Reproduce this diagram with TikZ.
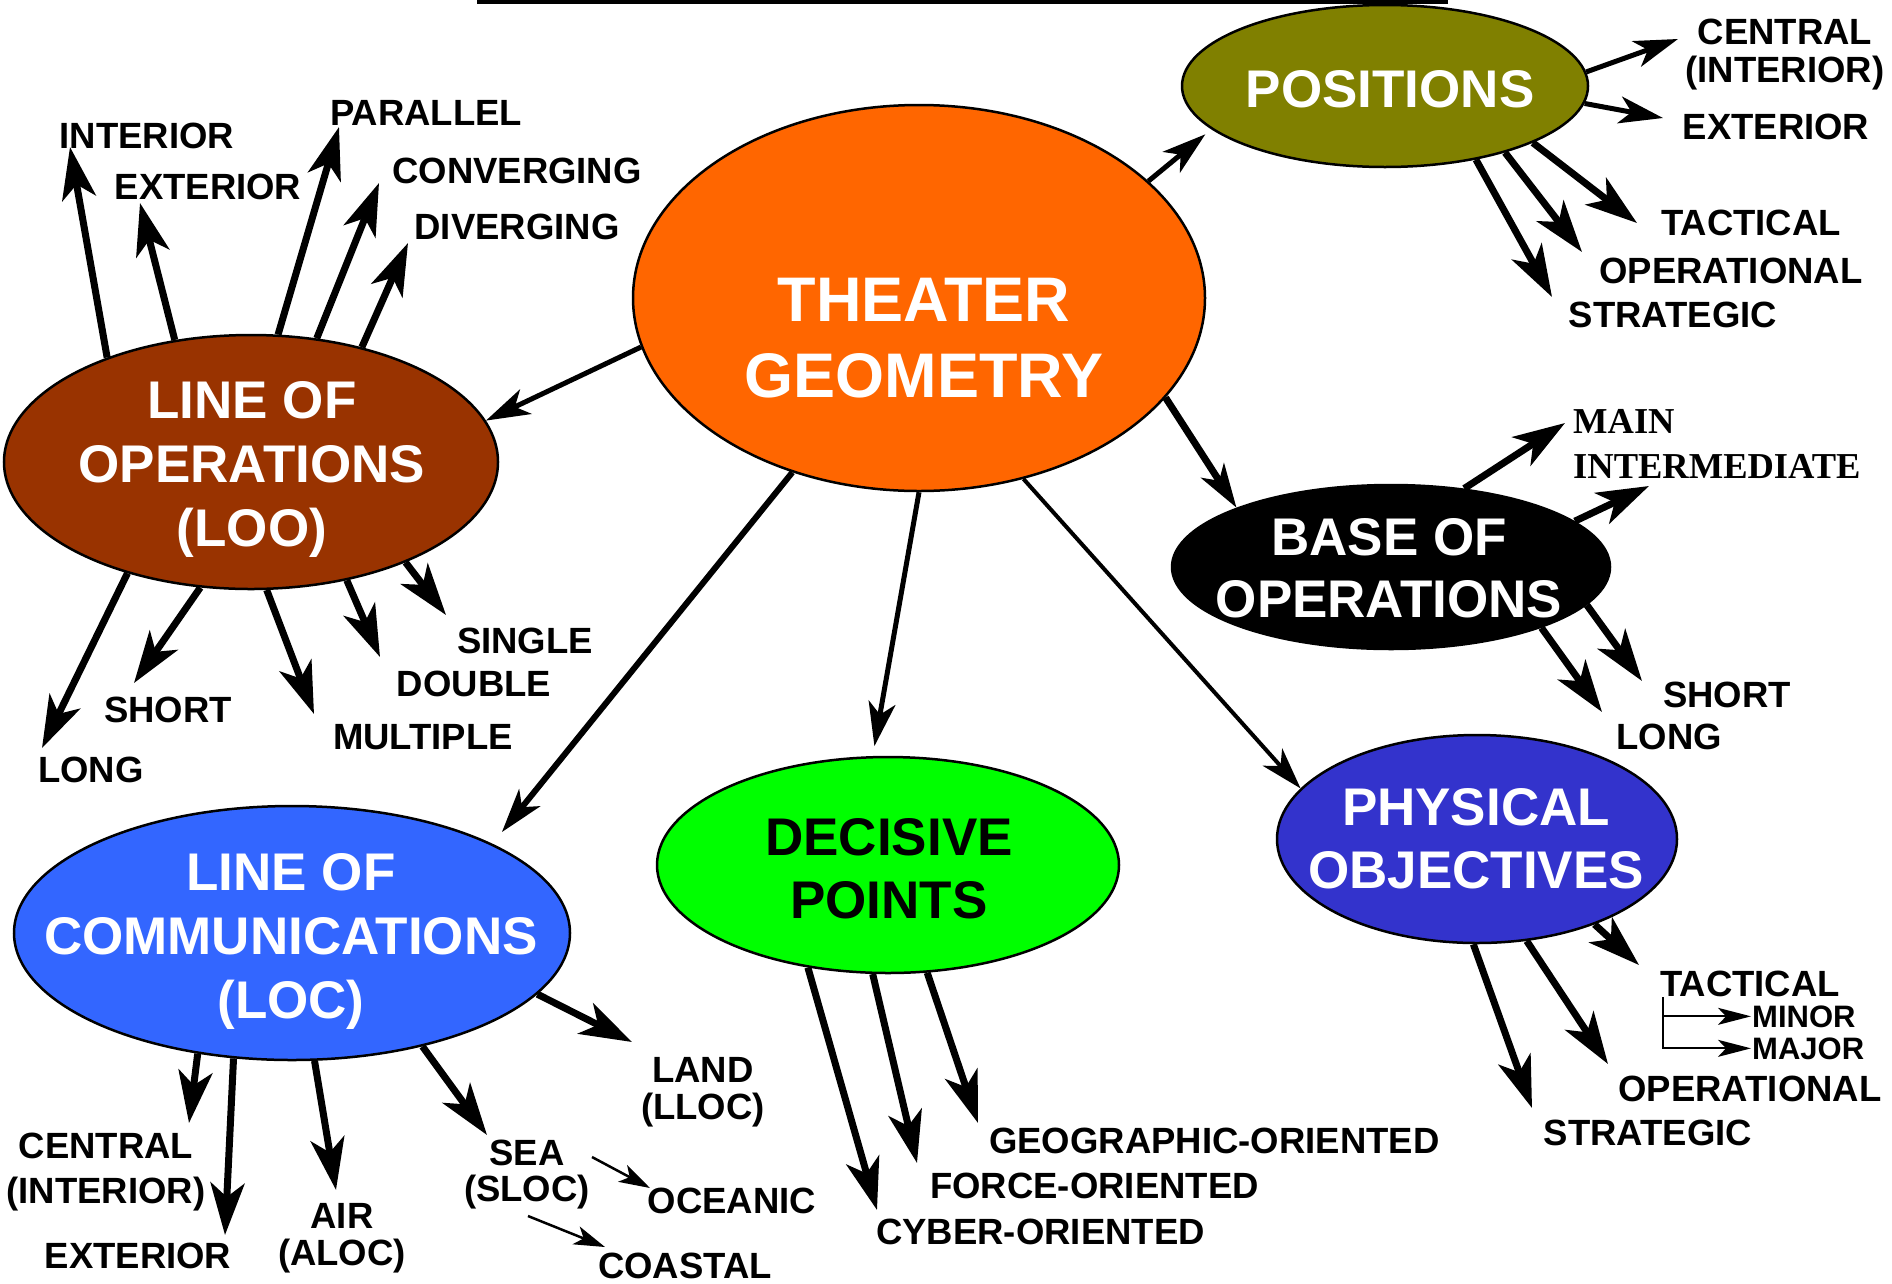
\documentclass[tikz,border=0pt]{standalone}
\usepackage{fontspec}
\setmainfont{Liberation Sans}
\newfontfamily\timesfont{Liberation Serif}
\usetikzlibrary{arrows.meta,shapes.geometric}

\definecolor{theaterorange}{HTML}{FF6600}
\definecolor{posolive}{HTML}{808000}
\definecolor{loobrown}{HTML}{993300}
\definecolor{locblue}{HTML}{3366FF}
\definecolor{decgreen}{HTML}{00FF00}
\definecolor{physblue}{HTML}{3333CC}

\tikzset{
  blob/.style={ellipse, draw=black, line width=2.5pt, inner sep=0pt},
  bigtxt/.style={text=white, font=\fontsize{53}{63}\selectfont\bfseries, align=center, anchor=base, inner sep=0pt},
  lbl/.style={font=\fontsize{36.5}{38}\selectfont\bfseries, align=center, anchor=base, inner sep=0pt},
  smalllbl/.style={font=\fontsize{31}{32}\selectfont\bfseries, anchor=base west, inner sep=1pt},
  hub/.style={-{Stealth[length=44pt,width=27pt,inset=12pt]}, line width=5pt},
  spoke/.style={-{Stealth[length=52pt,width=34pt,inset=14pt]}, line width=7pt},
  thinarrow/.style={-{Stealth[length=31pt,width=19pt,inset=8pt]}, line width=2.5pt},
}

\begin{document}
\begin{tikzpicture}[x=1pt,y=-1pt]
    \useasboundingbox (0,0) rectangle (1892,1283);
    \fill (477,0) rectangle (1448,4); % rule at the top

    % ellipses
    \node[blob, fill=theaterorange, minimum width=572pt, minimum height=386pt] (theater) at (919,298) {};
    \node[blob, fill=posolive, minimum width=406pt, minimum height=162pt] (positions) at (1385,86) {};
    \node[blob, fill=loobrown, minimum width=494pt, minimum height=254pt] (loo) at (251,462) {};
    \node[blob, fill=black, minimum width=438pt, minimum height=164pt] (base) at (1391,567) {};
    \node[blob, fill=locblue, minimum width=556pt, minimum height=254pt] (loc) at (292,933) {};
    \node[blob, fill=decgreen, minimum width=462pt, minimum height=216pt] (decisive) at (888,865) {};
    \node[blob, fill=physblue, minimum width=400pt, minimum height=208pt] (physical) at (1477,839) {};

    % texts sit on the baseline of their last line
    \node[bigtxt, font=\fontsize{63}{76}\selectfont\bfseries] (theaterTxt) at (924,397) {THEATER\\GEOMETRY};
    \node[bigtxt] (positionsTxt) at (1390,107) {POSITIONS};
    \node[bigtxt, font=\fontsize{53}{64}\selectfont\bfseries] (looTxt) at (252,546) {LINE OF\\OPERATIONS\\(LOO)};
    \node[bigtxt, font=\fontsize{53}{62}\selectfont\bfseries] (baseTxt) at (1389,617) {BASE OF\\OPERATIONS};
    \node[bigtxt, font=\fontsize{53}{64}\selectfont\bfseries] (locTxt) at (291,1018) {LINE OF\\COMMUNICATIONS\\(LOC)};
    \node[bigtxt, text=black] (decisiveTxt) at (889,918) {DECISIVE\\POINTS};
    \node[bigtxt] (physicalTxt) at (1476,888) {PHYSICAL\\OBJECTIVES};

    % from the centre ellipse
    \draw[hub] (theater.27.3) -- ([shift={(-6,5)}]positions.194);
    \draw[hub] (theater.190.8) -- (loo.10.1);
    \draw[hub, line width=7pt] (theater.-22.8) -- (base.159.8);
    \draw[hub, line width=6pt, shorten >=15pt] (theater.234.2) -- (loc.24);
    \draw[hub, shorten >=10pt] (theater.270) -- (decisive.98.5);
    \draw[hub, line width=4pt, -{Stealth[length=42pt,width=26pt,inset=12pt]}] (theater.-60) -- (physical.164.6);

    % positions
    \node[lbl] (pCentral) at (1785,82) {CENTRAL\\(INTERIOR)};
    \node[lbl] (pExterior) at (1776,139) {EXTERIOR};
    \node[lbl] (pTactical) at (1751,235) {TACTICAL};
    \node[lbl] (pOperational) at (1731,283) {OPERATIONAL};
    \node[lbl] (pStrategic) at (1673,327) {STRATEGIC};
    \coordinate (pCentralTip) at (1678,39);
    \coordinate (pExteriorTip) at (1663,118);
    \coordinate (pTacticalTip) at (1637,223);
    \coordinate (pOperationalTip) at (1582,252);
    \coordinate (pStrategicTip) at (1552,297);
    \draw[spoke, line width=5pt, -{Stealth[length=44pt,width=27pt,inset=12pt]}] (positions.4.3) -- (pCentralTip);
    \draw[spoke, line width=5pt, -{Stealth[length=44pt,width=27pt,inset=12pt]}] (positions.-5.2) -- (pExteriorTip);
    \draw[spoke] (positions.-21.1) -- (pTacticalTip);
    \draw[spoke] (positions.-29.2) -- (pOperationalTip);
    \draw[spoke] (positions.-39.7) -- (pStrategicTip);

    % line of operations
    \node[lbl] (lInterior) at (147,148) {INTERIOR};
    \node[lbl] (lExterior) at (208,199) {EXTERIOR};
    \node[lbl] (lParallel) at (426,125) {PARALLEL};
    \node[lbl] (lConverging) at (517,183) {CONVERGING};
    \node[lbl] (lDiverging) at (517,239) {DIVERGING};
    \node[lbl] (lSingle) at (525,653) {SINGLE};
    \node[lbl] (lDouble) at (474,696) {DOUBLE};
    \node[lbl] (lMultiple) at (423,749) {MULTIPLE};
    \node[lbl] (lShort) at (168,722) {SHORT};
    \node[lbl] (lLong) at (91,782) {LONG};
    \coordinate (lInteriorTip) at (70,147);
    \coordinate (lExteriorTip) at (140,203);
    \coordinate (lParallelTip) at (339,127);
    \coordinate (lConvergingTip) at (379,183);
    \coordinate (lDivergingTip) at (408,243);
    \coordinate (lSingleTip) at (446,615);
    \coordinate (lDoubleTip) at (380,657);
    \coordinate (lMultipleTip) at (314,714);
    \coordinate (lShortTip) at (134,683);
    \coordinate (lLongTip) at (42,748);
    \draw[spoke] (loo.144) -- (lInteriorTip);
    \draw[spoke] (loo.122.9) -- (lExteriorTip);
    \draw[spoke] (loo.78.4) -- (lParallelTip);
    \draw[spoke] (loo.62.7) -- (lConvergingTip);
    \draw[spoke] (loo.46.3) -- (lDivergingTip);
    \draw[spoke] (loo.-33.2) -- (lSingleTip);
    \draw[spoke] (loo.-51.3) -- (lDoubleTip);
    \draw[spoke] (loo.-83.7) -- (lMultipleTip);
    \draw[spoke] (loo.248.6) -- (lShortTip);
    \draw[spoke] (loo.222.3) -- (lLongTip);

    % base of operations
    \node[lbl, font=\fontsize{36.5}{45}\selectfont\timesfont\bfseries, align=left, anchor=base west] (bMain) at (1573,478) {MAIN\\INTERMEDIATE};
    \node[lbl] (bShort) at (1727,707) {SHORT};
    \node[lbl] (bLong) at (1669,749) {LONG};
    \coordinate (bMainTip) at (1565,423);
    \coordinate (bInterTip) at (1649,486);
    \coordinate (bShortTip) at (1642,681);
    \coordinate (bLongTip) at (1602,712);
    \draw[spoke] (base.47.7) -- (bMainTip);
    \draw[spoke] (base.14.9) -- (bInterTip);
    \draw[spoke] (base.-11.4) -- (bShortTip);
    \draw[spoke] (base.-22.2) -- (bLongTip);

    % physical objectives
    \node[lbl, anchor=base west] (fTactical) at (1660,996) {TACTICAL};
    \node[smalllbl] (fMinor) at (1751,1027) {MINOR};
    \node[smalllbl] (fMajor) at (1751,1059) {MAJOR};
    \node[lbl] (fOperational) at (1750,1101) {OPERATIONAL};
    \node[lbl] (fStrategic) at (1648,1145) {STRATEGIC};
    \coordinate (fTacticalTip) at (1639,965);
    \coordinate (fOperationalTip) at (1608,1064);
    \coordinate (fStrategicTip) at (1532,1108);
    \coordinate (fBracket) at (1663,997);
    \draw[spoke] (physical.-36.6) -- (fTacticalTip);
    \draw[spoke] (physical.-64.8) -- (fOperationalTip);
    \draw[spoke] (physical.268.4) -- (fStrategicTip);
    \draw[thinarrow, line width=2pt, -{Stealth[length=33pt,width=17pt,inset=8pt]}] (fBracket) |- (fMinor.west);
    \draw[thinarrow, line width=2pt, -{Stealth[length=33pt,width=17pt,inset=8pt]}] (fBracket) |- (fMajor.west);

    % decisive points
    \node[lbl, anchor=base west] (dGeo) at (989,1153) {GEOGRAPHIC-ORIENTED};
    \node[lbl, anchor=base west] (dForce) at (930,1198) {FORCE-ORIENTED};
    \node[lbl, anchor=base west] (dCyber) at (876,1244) {CYBER-ORIENTED};
    \coordinate (dGeoTip) at (978,1123);
    \coordinate (dForceTip) at (917,1163);
    \coordinate (dCyberTip) at (877,1210);
    \draw[spoke] (decisive.-70) -- (dGeoTip);
    \draw[spoke] (decisive.262.1) -- (dForceTip);
    \draw[spoke] (decisive.232.4) -- (dCyberTip);

    % line of communications
    \node[lbl, font=\fontsize{36.5}{37}\selectfont\bfseries] (cLand) at (703,1119) {LAND\\(LLOC)};
    \node[lbl, font=\fontsize{36.5}{45}\selectfont\bfseries] (cCentral) at (106,1203) {CENTRAL\\(INTERIOR)};
    \node[lbl] (cExterior) at (138,1268) {EXTERIOR};
    \node[lbl, font=\fontsize{36.5}{37}\selectfont\bfseries] (cAir) at (342,1265) {AIR\\(ALOC)};
    \node[lbl, font=\fontsize{36.5}{36}\selectfont\bfseries] (cSea) at (527,1201) {SEA\\(SLOC)};
    \node[lbl] (cOceanic) at (732,1213) {OCEANIC};
    \node[lbl] (cCoastal) at (685,1278) {COASTAL};
    \coordinate (cLandTip) at (632,1042);
    \coordinate (cCentralTip) at (189,1123);
    \coordinate (cExteriorTip) at (225,1235);
    \coordinate (cAirTip) at (336,1190);
    \coordinate (cSeaTip) at (487,1135);
    \coordinate (cOceanicFrom) at (592,1157);
    \coordinate (cOceanicTip) at (650,1188);
    \coordinate (cCoastalFrom) at (528,1216);
    \coordinate (cCoastalTip) at (605,1247);
    \draw[spoke] (loc.-14.9) -- (cLandTip);
    \draw[spoke] (loc.232.1) -- (cCentralTip);
    \draw[spoke] (loc.245.5) -- (cExteriorTip);
    \draw[spoke] (loc.-80.8) -- (cAirTip);
    \draw[spoke] (loc.-41) -- (cSeaTip);
    \draw[thinarrow] (cOceanicFrom) -- (cOceanicTip);
    \draw[thinarrow] (cCoastalFrom) -- (cCoastalTip);
\end{tikzpicture}
\end{document}
